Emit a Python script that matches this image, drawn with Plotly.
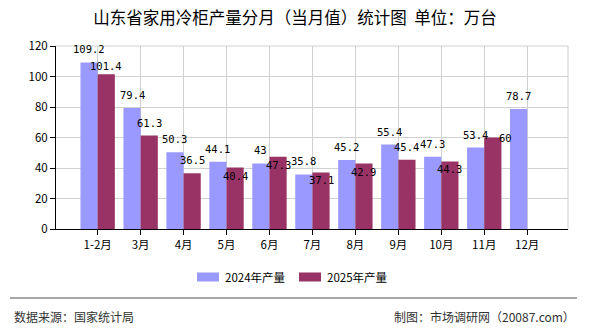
import plotly.graph_objects as go

categories = ["1-2月", "3月", "4月", "5月", "6月", "7月", "8月", "9月", "10月", "11月", "12月"]
values_2024 = [109.2, 79.4, 50.3, 44.1, 43, 35.8, 45.2, 55.4, 47.3, 53.4, 78.7]
values_2025 = [101.4, 61.3, 36.5, 40.4, 47.3, 37.1, 42.9, 45.4, 44.3, 60, None]
series_names = ["2024年产量", "2025年产量"]
y_ticks = [0, 20, 40, 60, 80, 100, 120]

# label placement (pixel offsets from bar top), as in the reference
shift_2024 = [(0, 13)] * 11
shift_2025 = [(0, 8), (0, 13), (0, 13), (0, -9), (0, -8), (0, -8), (0, -8),
              (0, 13), (0, -8), (13, 0), (0, 0)]

colors = ["#9999FF", "#993366"]

W, H = 590, 330
L, R, T, B = 56, 22, 46, 101
pw, ph = W - L - R, H - T - B

def px(x):
    return (x - L) / pw

def py(y):
    return (H - B - y) / ph

xs = list(range(len(categories)))
bargap = 0.2
bw = (1 - bargap) / 2

fig = go.Figure()
for vals, name, col in [(values_2024, series_names[0], colors[0]),
                        (values_2025, series_names[1], colors[1])]:
    fig.add_trace(go.Bar(x=xs, y=vals, name=name, marker_color=col,
                         marker_line_width=0, showlegend=False))

label_font = dict(family="DejaVu Sans Mono, monospace", size=10.5, color="#000")
for k, (vals, shifts) in enumerate([(values_2024, shift_2024), (values_2025, shift_2025)]):
    off = (k - 0.5) * bw
    for i, v in enumerate(vals):
        if v is None:
            continue
        fig.add_annotation(x=xs[i] + off, y=v, text=f"{v:g}", showarrow=False,
                           xanchor="center", yanchor="middle",
                           xshift=shifts[i][0], yshift=shifts[i][1],
                           font=label_font)

fig.update_layout(
    width=W, height=H,
    margin=dict(l=L, r=R, t=T, b=B),
    paper_bgcolor="white", plot_bgcolor="white",
    barmode="group", bargap=bargap, bargroupgap=0,
    font=dict(family="Noto Sans CJK SC, sans-serif", size=11, color="#000"),
    title=dict(text="山东省家用冷柜产量分月（当月值）统计图  单位：万台",
               x=0.5, xref="container", xanchor="center", y=1 - 18 / H, yanchor="middle",
               font=dict(size=16.5, color="#000")),
    xaxis=dict(
        range=[-0.97, 10.95], tickmode="array",
        tickvals=xs, ticktext=categories,
        showgrid=True, gridcolor="#d0d0d0", gridwidth=1,
        showline=True, linecolor="#000", linewidth=1,
        ticks="outside", ticklen=5, tickcolor="#000",
        zeroline=False, tickfont=dict(size=11.5),
    ),
    yaxis=dict(
        range=[0, 120], tickmode="array", tickvals=y_ticks,
        showgrid=True, gridcolor="#d0d0d0", gridwidth=1,
        showline=True, linecolor="#000", linewidth=1,
        ticks="outside", ticklen=5, tickcolor="#000",
        zeroline=False, tickfont=dict(size=11.5),
    ),
    showlegend=False,
)

# plot frame (grey) top & right
fig.add_shape(type="line", xref="paper", yref="paper", x0=1, x1=1, y0=0, y1=1,
              line=dict(color="#d0d0d0", width=1))
fig.add_shape(type="line", xref="paper", yref="paper", x0=0, x1=1, y0=1, y1=1,
              line=dict(color="#d0d0d0", width=1))

# custom legend
for (mx, tx), name, col in zip([(197, 223), (299, 325)], series_names, colors):
    fig.add_shape(type="rect", xref="paper", yref="paper",
                  x0=px(mx), x1=px(mx + 22), y0=py(281.5), y1=py(272.5),
                  fillcolor=col, line=dict(width=0))
    fig.add_annotation(text=name, xref="paper", yref="paper", x=px(tx), y=py(277),
                       xanchor="left", yanchor="middle", showarrow=False,
                       font=dict(size=11.5, color="#000"))

# footer
fig.add_shape(type="line", xref="paper", yref="paper", x0=px(10), x1=px(577),
              y0=py(298), y1=py(298), line=dict(color="#888", width=1.5))
fig.add_annotation(text="数据来源：国家统计局", xref="paper", yref="paper",
                   x=px(12), y=py(316), xanchor="left", yanchor="middle",
                   showarrow=False, font=dict(size=12, color="#333"))
fig.add_annotation(text="制图：市场调研网（20087.com）", xref="paper", yref="paper",
                   x=px(577), y=py(316), xanchor="right", yanchor="middle",
                   showarrow=False, font=dict(size=12, color="#333"))

fig.write_html("out.html")
